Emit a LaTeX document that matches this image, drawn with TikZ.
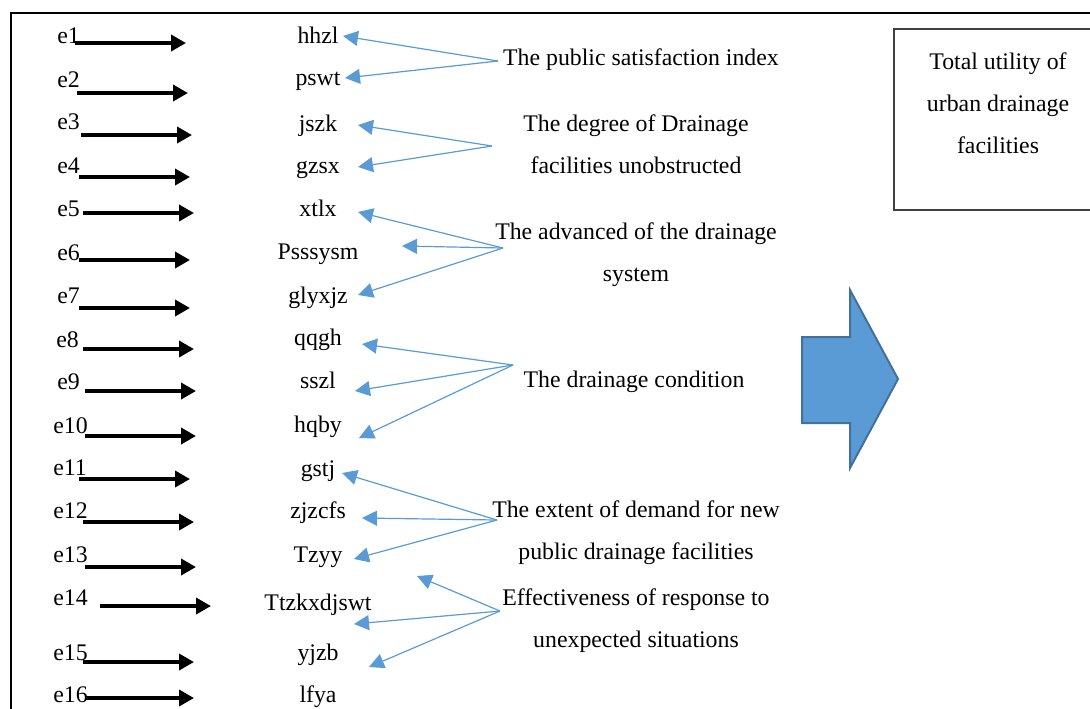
\documentclass[tikz,border=0pt]{standalone}
\usepackage{fontspec}
\setmainfont{Liberation Serif}
\usepackage{tikz}
\usetikzlibrary{arrows.meta}
\definecolor{lblue}{HTML}{5B9BD5}
\definecolor{dblue}{HTML}{41719C}

\begin{document}
\begin{tikzpicture}
  [x=0.5pt,y=-0.5pt,every node/.style={inner sep=0pt, font=\fontsize{11.9}{21}\selectfont},
   var/.style={anchor=base},
   factor/.style={anchor=north, align=center},
   err/.style={line width=1.8pt, -{Triangle[length=7.5pt,width=8pt]}},
   ind/.style={draw=lblue, line width=0.6pt, -{Triangle[length=7.5pt,width=7.5pt]}}]
  \path[use as bounding box, clip] (0,0) rectangle (1090,708);
  \draw[line width=1pt] (10.5,13) rectangle (1120,740);

  % error terms
  \foreach \i/\lx/\ly/\ax/\bx/\ay in {1/57/43/75/186/43, 2/57/87/77/188/93, 3/57/129/81/192/135,
      4/57/173/79/190/177, 5/57/216/83/194/213, 6/57/260/79/190/260, 7/57/303/79/190/308,
      8/56/347/83/194/349, 9/57/389/85/196/391, 10/53/433/85/196/436, 11/53/475/79/190/479,
      12/53/518/83/194/522, 13/53/562/85/196/567, 14/53/605/100/211/606, 15/53/660/83/194/662,
      16/53/702/85/194/698}
  {
    \node[anchor=base west] (e\i) at (\lx,\ly) {e\i};
    \coordinate (s\i) at (\ax,\ay);
    \coordinate (t\i) at (\bx,\ay);
    \draw[err] (s\i) -- (t\i);
  }

  \node[var] (n1) at (318,43) {hhzl};
  \node[var] (n2) at (318,85) {pswt};
  \node[var] (n3) at (318,131) {jszk};
  \node[var] (n4) at (318,173) {gzsx};
  \node[var] (n5) at (318,216) {xtlx};
  \node[var] (n6) at (318,259) {Psssysm};
  \node[var] (n7) at (318,303) {glyxjz};
  \node[var] (n8) at (318,345) {qqgh};
  \node[var] (n9) at (318,388) {sszl};
  \node[var] (n10) at (318,432) {hqby};
  \node[var] (n11) at (318,476) {gstj};
  \node[var] (n12) at (318,518) {zjzcfs};
  \node[var] (n13) at (318,562) {Tzyy};
  \node[var] (n14) at (318,610) {Ttzkxdjswt};
  \node[var] (n15) at (318,660) {yjzb};
  \node[var] (n16) at (318,702) {lfya};

  \node[var] (f1) at (641,65) {The public satisfaction index};
  \node[factor] (f2) at (636,114) {The degree of Drainage\\facilities unobstructed};
  \node[factor] (f3) at (636,222) {The advanced of the drainage\\system};
  \node[var] (f4) at (634,387) {The drainage condition};
  \node[factor] (f5) at (636,500) {The extent of demand for new\\public drainage facilities};
  \node[factor] (f6) at (636,588) {Effectiveness of response to\\unexpected situations};

  \coordinate (g1) at (498,61);
  \coordinate (g2) at (492,146);
  \coordinate (g3) at (503,248);
  \coordinate (g4) at (513,365);
  \coordinate (g5) at (497,520);
  \coordinate (g6) at (500,611);

  \coordinate (a1) at (343,36);
  \coordinate (a2) at (345,78);
  \coordinate (a3) at (358,125);
  \coordinate (a4) at (358,167);
  \coordinate (a5) at (358,212);
  \coordinate (a6) at (402,246);
  \coordinate (a7) at (358,295);
  \coordinate (a8) at (362,344);
  \coordinate (a9) at (355,391);
  \coordinate (a10) at (359,438);
  \coordinate (a11) at (342,473);
  \coordinate (a12) at (362,518);
  \coordinate (a13) at (354,559);
  \coordinate (a14) at (417,576);
  \coordinate (a15) at (354,624);
  \coordinate (a16) at (369,667);

  \foreach \from/\to in {g1/a1, g1/a2, g2/a3, g2/a4, g3/a5, g3/a6, g3/a7, g4/a8, g4/a9, g4/a10,
      g5/a11, g5/a12, g5/a13, g6/a14, g6/a15, g6/a16}
    \draw[ind] (\from) -- (\to);

  % result
  \draw[fill=lblue, draw=dblue, line width=1pt] (802,337) -- (850,337) -- (850,290) -- (898,379)
    -- (850,468) -- (850,423) -- (802,423) -- cycle;
  \draw[line width=0.7pt, draw=black!75] (894,29) rectangle (1120,210);
  \node[factor] (total) at (998,52) {Total utility of\\urban drainage\\facilities};
\end{tikzpicture}
\end{document}
